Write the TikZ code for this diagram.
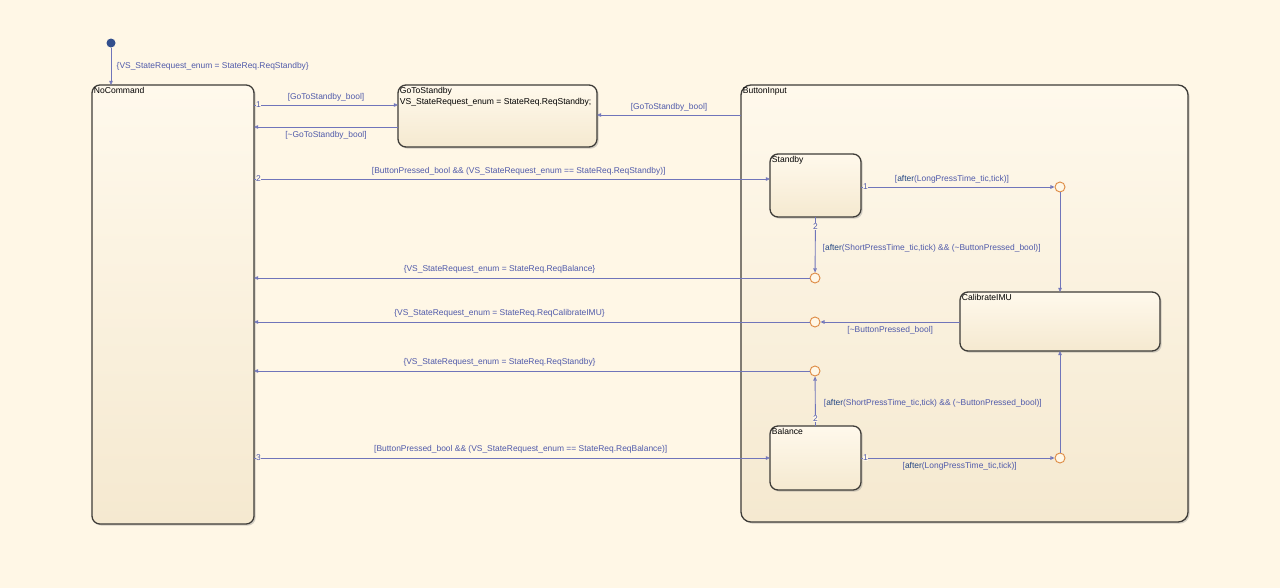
\documentclass[tikz,border=0pt]{standalone}
\usepackage{fontspec}
\setmainfont{Liberation Sans}
\usetikzlibrary{positioning,arrows.meta,shadows}

\definecolor{bgcream}{RGB}{255,247,230}
\definecolor{statetop}{RGB}{255,249,236}
\definecolor{statebot}{RGB}{245,233,208}
\definecolor{stateedge}{RGB}{62,60,56}
\definecolor{trline}{RGB}{112,117,186}
\definecolor{trtext}{RGB}{80,90,170}
\definecolor{kwblue}{RGB}{35,70,130}
\definecolor{juncorange}{RGB}{222,140,70}

\begin{document}
\begin{tikzpicture}[x=0.03cm,y=-0.03cm,
	state/.style={draw=stateedge, line width=1.1pt, rounded corners=0.24cm,
		top color=statetop, bottom color=statebot, inner sep=0pt, outer sep=0pt,
		drop shadow={opacity=0.35, shadow xshift=1.4pt, shadow yshift=-1.4pt}},
	statename/.style={font=\fontsize{7.3}{8.9}\selectfont, inner sep=0pt, align=left},
	junc/.style={circle, draw=juncorange, line width=0.8pt, fill=bgcream,
		minimum size=0.3cm, inner sep=0pt},
	tr/.style={draw=trline, line width=0.75pt, -{Triangle[open, length=3.5pt, width=3pt]}},
	lbl/.style={font=\fontsize{7.2}{8.8}\selectfont, text=trtext, inner sep=0pt},
	num/.style={font=\fontsize{7.2}{8.8}\selectfont, text=trtext, inner sep=0.4pt, fill=bgcream}]

	% canvas
	\fill[bgcream] (0,0) rectangle (1280,588);
	\useasboundingbox (0,0) rectangle (1280,588);

	% states
	\node[state, minimum width=4.86cm, minimum height=13.17cm] (nocmd) at (173,304.5) {};
	\node[state, minimum width=5.97cm, minimum height=1.86cm] (gts) at (497.5,116) {};
	\node[state, minimum width=13.41cm, minimum height=13.11cm, rounded corners=0.3cm] (btn) at (964.5,303.5) {};
	\node[state, minimum width=2.73cm, minimum height=1.89cm] (stb) at (815.5,185.5) {};
	\node[state, minimum width=6cm, minimum height=1.77cm] (cal) at (1060,321.5) {};
	\node[state, minimum width=2.73cm, minimum height=1.92cm] (bal) at (815.5,458) {};

	\node[statename, below right=2pt and 1.5pt of nocmd.north west] {NoCommand};
	\node[statename, below right=2pt and 1.5pt of gts.north west]
		{GoToStandby\\VS\_StateRequest\_enum = StateReq.ReqStandby;};
	\node[statename, below right=2pt and 1.5pt of btn.north west] {ButtonInput};
	\node[statename, below right=2pt and 1.5pt of stb.north west] {Standby};
	\node[statename, below right=2pt and 1.5pt of cal.north west] {CalibrateIMU};
	\node[statename, below right=2pt and 1.5pt of bal.north west] {Balance};

	% junctions
	\node[junc] (j1) at (1060,187) {};
	\node[junc] (j2) at (815,278) {};
	\node[junc] (j3) at (815,322) {};
	\node[junc] (j4) at (815,371) {};
	\node[junc] (j5) at (1060,458) {};

	% default transition
	\node[circle, fill=kwblue!80!trline, minimum size=0.27cm, inner sep=0pt] (init) at (111,43) {};
	\draw[tr] (init) -- (init |- nocmd.north)
		node[lbl, pos=0.5, right=4.5pt] {\{VS\_StateRequest\_enum = StateReq.ReqStandby\}};

	% NoCommand <-> GoToStandby
	\draw[tr] (nocmd.east |- 0,105) -- (gts.west |- 0,105)
		node[num, pos=0, anchor=west, xshift=1pt] {1}
		node[lbl, midway, above=3pt] {[GoToStandby\_bool]};
	\draw[tr] (gts.west |- 0,127) -- (nocmd.east |- 0,127)
		node[lbl, midway, below=3.5pt] {[\textasciitilde GoToStandby\_bool]};
	\draw[tr] (btn.west |- 0,115) -- (gts.east |- 0,115)
		node[lbl, midway, above=3pt] {[GoToStandby\_bool]};

	% NoCommand -> ButtonInput substates
	\draw[tr] (nocmd.east |- 0,179) -- (stb.west |- 0,179)
		node[num, pos=0, anchor=west, xshift=1pt] {2}
		node[lbl, pos=0.513, above=3pt] {[ButtonPressed\_bool \&\& (VS\_StateRequest\_enum == StateReq.ReqStandby)]};
	\draw[tr] (nocmd.east |- 0,458) -- (bal.west |- 0,458)
		node[num, pos=0, anchor=west, xshift=1pt] {3}
		node[lbl, pos=0.517, above=3.5pt] {[ButtonPressed\_bool \&\& (VS\_StateRequest\_enum == StateReq.ReqBalance)]};

	% Standby
	\draw[tr] (stb.east |- j1) -- (j1)
		node[num, pos=0, anchor=west, xshift=1pt] {1}
		node[lbl, pos=0.47, above=3pt] {[\textcolor{kwblue}{after}(LongPressTime\_tic,tick)]};
	\draw[tr] (j1) -- (j1 |- cal.north);
	\draw[tr] (stb.south) -- (j2)
		node[num, pos=0, below=4.5pt] {2}
		node[lbl, pos=0.57, right=6pt] {[\textcolor{kwblue}{after}(ShortPressTime\_tic,tick) \&\& (\textasciitilde ButtonPressed\_bool)]};
	\draw[tr] (j2) -- (nocmd.east |- j2)
		node[lbl, pos=0.558, above=3.5pt] {\{VS\_StateRequest\_enum = StateReq.ReqBalance\}};

	% CalibrateIMU
	\draw[tr] (cal.west |- j3) -- (j3)
		node[lbl, midway, below=3pt] {[\textasciitilde ButtonPressed\_bool]};
	\draw[tr] (j3) -- (nocmd.east |- j3)
		node[lbl, pos=0.558, above=3.5pt] {\{VS\_StateRequest\_enum = StateReq.ReqCalibrateIMU\}};

	% Balance
	\draw[tr] (bal.north) -- (j4)
		node[num, pos=0, above=3pt] {2}
		node[lbl, pos=0.46, right=7pt] {[\textcolor{kwblue}{after}(ShortPressTime\_tic,tick) \&\& (\textasciitilde ButtonPressed\_bool)]};
	\draw[tr] (j4) -- (nocmd.east |- j4)
		node[lbl, pos=0.558, above=4pt] {\{VS\_StateRequest\_enum = StateReq.ReqStandby\}};
	\draw[tr] (bal.east |- j5) -- (j5)
		node[num, pos=0, anchor=west, xshift=1pt] {1}
		node[lbl, pos=0.51, below=3pt] {[\textcolor{kwblue}{after}(LongPressTime\_tic,tick)]};
	\draw[tr] (j5) -- (j5 |- cal.south);

\end{tikzpicture}
\end{document}
